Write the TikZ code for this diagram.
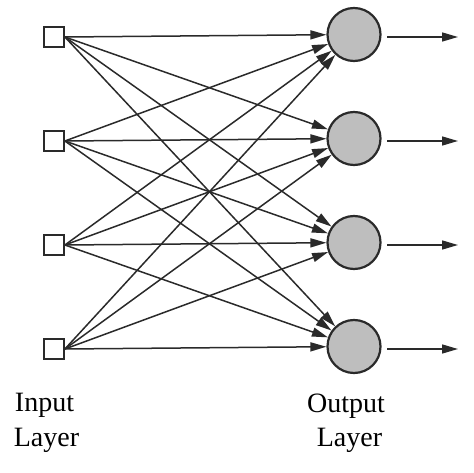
\documentclass[tikz,border=0pt]{standalone}
\usepackage{fontspec}
\setmainfont{Liberation Serif}
\usetikzlibrary{arrows.meta}
\definecolor{linec}{HTML}{2A2A2A}
\definecolor{fillc}{HTML}{BEBEBE}
\tikzset{
  inbox/.style={draw=linec, line width=1.8pt, fill=white, minimum size=20pt, inner sep=0pt},
  outcirc/.style={circle, draw=linec, line width=2.2pt, fill=fillc, minimum size=53pt, inner sep=0pt},
  conn/.style={draw=linec, line width=1.5pt, -{Triangle[length=16pt,width=9pt]}},
  lbl/.style={anchor=base, font=\fontsize{28pt}{30pt}\selectfont, inner sep=0pt, text=black}
}
\begin{document}
\begin{tikzpicture}[x=1pt,y=1pt]
\useasboundingbox (0,0) rectangle (474,472);
% inputs
\foreach \i/\y in {1/435,2/331,3/227,4/123}{
  \node[inbox] (i\i) at (54,\y) {};
}
% outputs
\foreach \j/\y in {1/437.5,2/333.5,3/229.5,4/125.5}{
  \node[outcirc] (o\j) at (354,\y) {};
}
% connectors
\foreach \i in {1,...,4}{
  \foreach \j in {1,...,4}{
    \draw[conn] (i\i.east) -- (o\j);
  }
}
% output arrows
\foreach \j/\y in {1/435,2/331,3/227,4/123}{
  \coordinate (s\j) at (387,\y);
  \coordinate (e\j) at (458,\y);
  \draw[conn] (s\j) -- (e\j);
}
% labels
\node[lbl] (l1) at (44.5,61) {Input};
\node[lbl] (l2) at (46.5,26) {Layer};
\node[lbl] (l3) at (346,60) {Output};
\node[lbl] (l4) at (349.5,26) {Layer};
\end{tikzpicture}
\end{document}
